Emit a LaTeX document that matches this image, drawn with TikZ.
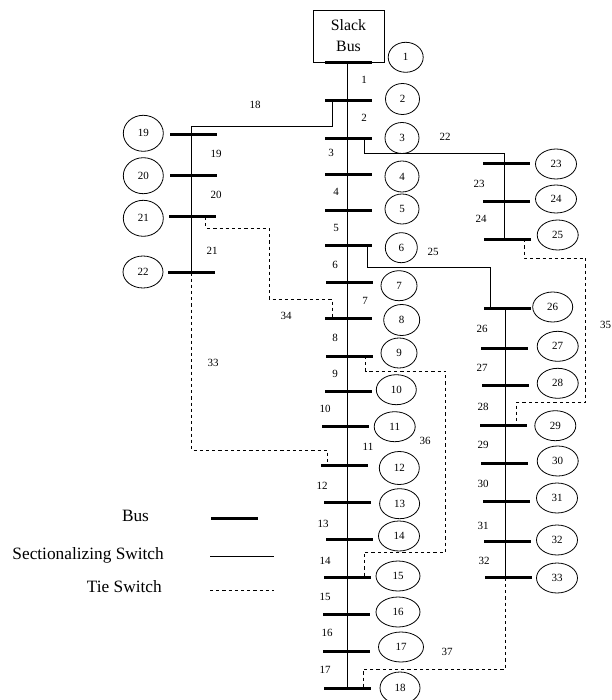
\documentclass[tikz,border=0pt]{standalone}
\usepackage{fontspec}
\setmainfont{Liberation Serif}
\usetikzlibrary{shapes.geometric, positioning}

\begin{document}
\begin{tikzpicture}[
    x=1pt, y=-1pt,
    busbar/.style={rectangle, fill=black, inner sep=0pt, minimum width=47pt, minimum height=3pt},
    busno/.style={ellipse, draw=black, line width=0.8pt, inner sep=0pt, minimum width=41pt, minimum height=30pt, font=\fontsize{11}{13}\selectfont},
    feeder/.style={black, line width=0.9pt},
    tie/.style={black, line width=0.8pt, dash pattern=on 3.2pt off 3pt},
    linelabel/.style={inner sep=0pt, font=\fontsize{11}{13}\selectfont},
    legendtext/.style={inner sep=0pt, font=\fontsize{17.3}{20}\selectfont}
]
\useasboundingbox (0,0) rectangle (611,700);

% Slack bus
\node[draw=black, line width=0.8pt, minimum width=71pt, minimum height=52pt, inner sep=0pt, align=center, font=\fontsize{15.8}{21}\selectfont] (slack) at (348.5,36) {Slack\\Bus};

% Trunk and bend coordinates
\coordinate (mainline) at (347,62);
\coordinate (leftline) at (191.3,126);
\coordinate (uppline) at (504,153.5);
\coordinate (lowline) at (505,268);
\coordinate (bend22) at (364,153.5);
\coordinate (bend25) at (367.7,267.7);
\coordinate (bend33) at (191.5,450);
\coordinate (bend34a) at (205.7,228);
\coordinate (bend34b) at (269,299);
\coordinate (bend35a) at (524,258);
\coordinate (bend35b) at (585.7,402.7);
\coordinate (bend36a) at (365.7,371);
\coordinate (bend36b) at (445.7,552);
\coordinate (bend37) at (505,669.3);

% Buses, main feeder
\node[busbar] (bus1) at (348.5,62.5) {};
\node[busbar] (bus2) at (348.5,101) {};
\node[busbar] (bus3) at (348.5,138.5) {};
\node[busbar] (bus4) at (348.5,174.5) {};
\node[busbar] (bus5) at (348.5,210.5) {};
\node[busbar] (bus6) at (348.8,245.7) {};
\node[busbar] (bus7) at (349.3,282.3) {};
\node[busbar] (bus8) at (348.5,318.3) {};
\node[busbar] (bus9) at (349.5,356) {};
\node[busbar] (bus10) at (348.5,391) {};
\node[busbar] (bus11) at (345.5,426.7) {};
\node[busbar] (bus12) at (344.5,465.3) {};
\node[busbar] (bus13) at (347.3,502.3) {};
\node[busbar] (bus14) at (349.5,539.5) {};
\node[busbar] (bus15) at (347.3,577) {};
\node[busbar] (bus16) at (346,614.5) {};
\node[busbar] (bus17) at (346.5,651) {};
\node[busbar] (bus18) at (347.3,688.3) {};

% Buses, left branch
\node[busbar] (bus19) at (193.3,135) {};
\node[busbar] (bus20) at (193.3,175.7) {};
\node[busbar] (bus21) at (192,217) {};
\node[busbar] (bus22) at (191.5,272.3) {};

% Buses, right branches
\node[busbar] (bus23) at (506,164) {};
\node[busbar] (bus24) at (506,202) {};
\node[busbar] (bus25) at (507,239.3) {};
\node[busbar] (bus26) at (507,308.5) {};
\node[busbar] (bus27) at (504,348.3) {};
\node[busbar] (bus28) at (505.5,385.7) {};
\node[busbar] (bus29) at (503.5,425.3) {};
\node[busbar] (bus30) at (504,463.3) {};
\node[busbar] (bus31) at (506.4,501.7) {};
\node[busbar] (bus32) at (507.3,541.7) {};
\node[busbar] (bus33) at (508,577.7) {};

% Bus numbers
\node[busno, minimum width=35pt] (no1) at (405.7,57.3) {1};
\node[busno, minimum width=34pt, minimum height=31pt] (no2) at (402.5,99) {2};
\node[busno, minimum width=34pt, minimum height=31pt] (no3) at (402,138) {3};
\node[busno, minimum width=34pt, minimum height=31pt] (no4) at (402,176.5) {4};
\node[busno, minimum width=34pt] (no5) at (402,209) {5};
\node[busno, minimum width=32pt] (no6) at (401.3,247.7) {6};
\node[busno, minimum width=36pt] (no7) at (399,285.7) {7};
\node[busno, minimum width=36pt, minimum height=31pt] (no8) at (401.7,320) {8};
\node[busno, minimum width=36pt] (no9) at (399,353) {9};
\node[busno, minimum width=40pt] (no10) at (396.3,389.7) {10};
\node[busno] (no11) at (394.7,426.7) {11};
\node[busno, minimum width=40pt, minimum height=33pt] (no12) at (399.3,468) {12};
\node[busno, minimum width=40pt] (no13) at (399.6,503.7) {13};
\node[busno] (no14) at (399,536) {14};
\node[busno, minimum width=44pt] (no15) at (398,576) {15};
\node[busno, minimum width=44pt] (no16) at (398,612) {16};
\node[busno, minimum width=45pt] (no17) at (401,647) {17};
\node[busno, minimum width=40pt, minimum height=32pt] (no18) at (400,688) {18};
\node[busno, minimum width=40pt, minimum height=36pt] (no19) at (143.3,133.3) {19};
\node[busno, minimum width=40pt, minimum height=36pt] (no20) at (143.3,175.7) {20};
\node[busno, minimum width=40pt, minimum height=36pt] (no21) at (143.3,218.3) {21};
\node[busno, minimum width=40pt, minimum height=32pt] (no22) at (143,272) {22};
\node[busno] (no23) at (556,164) {23};
\node[busno, minimum height=28pt] (no24) at (556,199) {24};
\node[busno] (no25) at (557.7,235) {25};
\node[busno, minimum width=40pt] (no26) at (552.7,307) {26};
\node[busno] (no27) at (557.7,346.3) {27};
\node[busno] (no28) at (557.7,383.3) {28};
\node[busno] (no29) at (555.3,425.7) {29};
\node[busno] (no30) at (557.7,461) {30};
\node[busno] (no31) at (557,498) {31};
\node[busno] (no32) at (557,540) {32};
\node[busno] (no33) at (557,578) {33};

% Line numbers
\node[linelabel] (line1) at (364,80) {1};
\node[linelabel] (line2) at (364,118) {2};
\node[linelabel] (line3) at (331,153) {3};
\node[linelabel] (line4) at (336,192) {4};
\node[linelabel] (line5) at (336,228) {5};
\node[linelabel] (line6) at (335,265) {6};
\node[linelabel] (line7) at (365,301) {7};
\node[linelabel] (line8) at (335,338) {8};
\node[linelabel] (line9) at (335,374) {9};
\node[linelabel] (line10) at (325,409) {10};
\node[linelabel] (line11) at (368,447) {11};
\node[linelabel] (line12) at (322,486) {12};
\node[linelabel] (line13) at (323,524) {13};
\node[linelabel] (line14) at (325,561) {14};
\node[linelabel] (line15) at (325,597) {15};
\node[linelabel] (line16) at (327,633) {16};
\node[linelabel] (line17) at (325,670) {17};
\node[linelabel] (line18) at (255,105) {18};
\node[linelabel] (line19) at (216,154) {19};
\node[linelabel] (line20) at (216,195) {20};
\node[linelabel] (line21) at (212,251) {21};
\node[linelabel] (line22) at (445,137) {22};
\node[linelabel] (line23) at (479,184) {23};
\node[linelabel] (line24) at (481,219) {24};
\node[linelabel] (line25) at (433,252) {25};
\node[linelabel] (line26) at (482,329) {26};
\node[linelabel] (line27) at (482,368) {27};
\node[linelabel] (line28) at (483,407) {28};
\node[linelabel] (line29) at (483,445) {29};
\node[linelabel] (line30) at (483,484) {30};
\node[linelabel] (line31) at (483,526) {31};
\node[linelabel] (line32) at (484,561) {32};
\node[linelabel] (line33) at (213,363) {33};
\node[linelabel] (line34) at (286,316) {34};
\node[linelabel] (line35) at (605.5,325) {35};
\node[linelabel] (line36) at (425,441) {36};
\node[linelabel] (line37) at (447,652) {37};

% Legend
\node[legendtext] (legbus) at (135.5,515.7) {Bus};
\node[legendtext, anchor=east] (legsect) at (164,555) {Sectionalizing Switch};
\node[legendtext, anchor=east] (legtie) at (162,587) {Tie Switch};
\node[busbar] (legbar) at (234,518.5) {};
\coordinate (legsectA) at (210,556.5);
\coordinate (legsectB) at (274,556.5);
\coordinate (legtieA) at (210,590);
\coordinate (legtieB) at (274,590);

% Main feeder
\draw[feeder] (bus1 -| mainline) -- (bus2 -| mainline);
\draw[feeder] (bus2 -| mainline) -- (bus3 -| mainline);
\draw[feeder] (bus3 -| mainline) -- (bus4 -| mainline);
\draw[feeder] (bus4 -| mainline) -- (bus5 -| mainline);
\draw[feeder] (bus5 -| mainline) -- (bus6 -| mainline);
\draw[feeder] (bus6 -| mainline) -- (bus7 -| mainline);
\draw[feeder] (bus7 -| mainline) -- (bus8 -| mainline);
\draw[feeder] (bus8 -| mainline) -- (bus9 -| mainline);
\draw[feeder] (bus9 -| mainline) -- (bus10 -| mainline);
\draw[feeder] (bus10 -| mainline) -- (bus11 -| mainline);
\draw[feeder] (bus11 -| mainline) -- (bus12 -| mainline);
\draw[feeder] (bus12 -| mainline) -- (bus13 -| mainline);
\draw[feeder] (bus13 -| mainline) -- (bus14 -| mainline);
\draw[feeder] (bus14 -| mainline) -- (bus15 -| mainline);
\draw[feeder] (bus15 -| mainline) -- (bus16 -| mainline);
\draw[feeder] (bus16 -| mainline) -- (bus17 -| mainline);
\draw[feeder] (bus17 -| mainline) -- (bus18 -| mainline);

% Left branch
\draw[feeder] ([xshift=-16.2pt]bus2.center) |- (leftline) -- (bus19 -| leftline);
\draw[feeder] (bus19 -| leftline) -- (bus20 -| leftline);
\draw[feeder] (bus20 -| leftline) -- (bus21 -| leftline);
\draw[feeder] (bus21 -| leftline) -- (bus22 -| leftline);

% Right branches
\draw[feeder] ([xshift=15.5pt]bus3.center) -- (bend22) -| (uppline |- bus23);
\draw[feeder] (bus23 -| uppline) -- (bus24 -| uppline);
\draw[feeder] (bus24 -| uppline) -- (bus25 -| uppline);
\draw[feeder] ([xshift=18.9pt]bus6.center) -- (bend25) -| ([xshift=-16.3pt]bus26.center);
\draw[feeder] (bus26 -| lowline) -- (bus27 -| lowline);
\draw[feeder] (bus27 -| lowline) -- (bus28 -| lowline);
\draw[feeder] (bus28 -| lowline) -- (bus29 -| lowline);
\draw[feeder] (bus29 -| lowline) -- (bus30 -| lowline);
\draw[feeder] (bus30 -| lowline) -- (bus31 -| lowline);
\draw[feeder] (bus31 -| lowline) -- (bus32 -| lowline);
\draw[feeder] (bus32 -| lowline) -- (bus33 -| lowline);

% Tie switches
\draw[tie] (bus22 -| bend33) -- (bend33) -| ([xshift=-17.2pt]bus12.center);
\draw[tie] ([xshift=13.7pt]bus21.center) |- (bend34a -| bend34b) -- (bend34b) -| ([xshift=-16.5pt]bus8.center);
\draw[tie] ([xshift=17pt]bus25.center) |- (bend35a -| bend35b) -- (bend35b) -| ([xshift=12.5pt]bus29.center);
\draw[tie] ([xshift=16.2pt]bus9.center) |- (bend36a -| bend36b) -- (bend36b) -| ([xshift=16.7pt]bus15.center);
\draw[tie] (bus33 -| bend37) -- (bend37) -| ([xshift=15.7pt]bus18.center);

% Legend lines
\draw[feeder, line width=0.7pt] (legsectA) -- (legsectB);
\draw[tie] (legtieA) -- (legtieB);

\end{tikzpicture}
\end{document}
